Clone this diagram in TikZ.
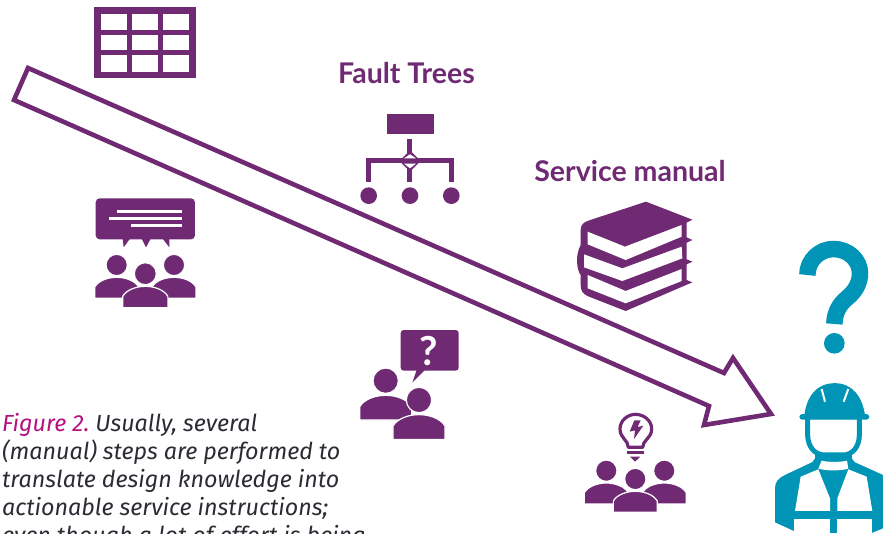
\documentclass[tikz,border=0pt]{standalone}
\usepackage{fontspec}
\setmainfont{Fira Sans}
\newfontfamily\labelfont{Lato}
\definecolor{plum}{HTML}{6F2A73}
\definecolor{petrol}{HTML}{0095B6}
\definecolor{figpink}{HTML}{B5117F}
\definecolor{captiongrey}{HTML}{2B2B33}
\tikzset{
  zoomed/.style={shift={#1},x=0.3333pt,y=-0.3333pt},
  headline/.style={font=\labelfont\bfseries\fontsize{28.5}{32}\selectfont,text=plum},
  person/.pic={
    \begin{scope}[x=#1pt,y=-#1pt]
    \fill[plum,draw=white,line width=1.2pt] (0,0) circle (1);
    \fill[plum,draw=white,line width=1.2pt] (-2.05,3.1) -- (-2.05,2.05)
      .. controls (-1.7,1.45) and (-0.8,1.15) .. (0,1.15)
      .. controls (0.8,1.15) and (1.7,1.45) .. (2.05,2.05) -- (2.05,3.1) -- cycle;
    \end{scope}
  }
}

\begin{document}
\begin{tikzpicture}[x=1pt,y=-1pt]
  \useasboundingbox (0,0) rectangle (883,533);
  \clip (0,0) rectangle (883,533);

  % table
  \begin{scope}[zoomed={(60,0)}]
    \fill[plum] (103,21) rectangle (407,234);
    \foreach \colx in {124,217,309} {
      \foreach \rowy/\rowh in {41/49,105/45,166/49} {
        \fill[white] (\colx,\rowy) rectangle ++(78,\rowh);
      }
    }
  \end{scope}

  % meeting
  \begin{scope}[zoomed={(80,190)}]
    \fill[plum,rounded corners=4pt] (47,25) rectangle (345,148);
    \fill[plum] (128,146) -- (131,172) -- (150,146) -- cycle;
    \fill[plum] (185,146) -- (198,172) -- (212,146) -- cycle;
    \fill[plum] (248,146) -- (268,172) -- (268,146) -- cycle;
    \fill[white] (112,60) rectangle (305,70);
    \fill[white] (87,81) rectangle (305,91);
    \fill[white] (153,103) rectangle (305,112);
  \end{scope}
  \pic at (116.7,265) {person=10.7};
  \pic at (174,265) {person=10.7};
  \pic at (145.3,273.7) {person=11};

  % fault tree
  \node[headline] (faulttrees) at (406.5,73) {Fault Trees};
  \begin{scope}[zoomed={(350,105)}]
    \fill[plum] (111,27) rectangle (252,87);
    \fill[plum] (172,103) rectangle (187,232);
    \fill[plum] (49,160) rectangle (312,175);
    \fill[plum] (49,160) rectangle (64,232);
    \fill[plum] (297,160) rectangle (312,232);
    \fill[plum] (180,136) -- (212,168) -- (180,200) -- (148,168) -- cycle;
    \fill[white] (180,148) -- (198,160) -- (162,160) -- cycle;
    \fill[white] (180,190) -- (198,176) -- (162,176) -- cycle;
    \foreach \dotx in {56,180,304} {
      \fill[plum] (\dotx,272) circle (25);
    }
  \end{scope}

  % books
  \node[headline] (servicemanual) at (630,171) {Service manual};
  \begin{scope}[zoomed={(565,195)}]
    \fill[plum] (243,20) -- (382,74) -- (365,83) -- (365,127) -- (382,135) -- (365,143)
      -- (365,193) -- (382,200) -- (365,208) -- (365,255) -- (382,262) -- (182,348)
      -- (72,305) .. controls (55,298) and (47,290) .. (47,270) -- (47,240)
      .. controls (35,225) and (30,180) .. (47,150) -- (47,105)
      .. controls (47,90) and (55,82) .. (70,77) -- cycle;
    \fill[white] (68,110) -- (180,155) -- (350,90) -- (350,125) -- (182,195) -- (68,148) -- cycle;
    \fill[white] (57,178) -- (172,220) -- (350,155) -- (352,190) -- (172,258) -- (57,217) -- cycle;
    \fill[white] (68,240) -- (182,288) -- (350,222) -- (350,258) -- (182,325) -- (68,280) -- cycle;
  \end{scope}

  % question
  \begin{scope}[zoomed={(350,320)}]
    \fill[plum,rounded corners=3pt] (152,30) rectangle (326,152);
    \fill[plum] (200,150) -- (187,188) -- (225,150) -- cycle;
  \end{scope}
  \node[font=\labelfont\bfseries\fontsize{40}{44}\selectfont,text=white] (bubblemark) at (429,351) {?};
  \pic at (385.7,380.7) {person=12.7};
  \pic at (419,400) {person=12.7};

  % idea
  \begin{scope}[zoomed={(575,405)}]
    \draw[plum,line width=3.2pt,line join=round] (160,127)
      .. controls (160,105) and (135,100) .. (135,72)
      .. controls (135,45) and (160,28) .. (181,28)
      .. controls (205,28) and (230,45) .. (230,72)
      .. controls (230,100) and (203,105) .. (203,127) -- cycle;
    \fill[plum] (157,138) rectangle (206,147);
    \fill[plum] (165,155) -- (196,155) -- (180,170) -- cycle;
    \fill[plum] (178,46) -- (164,80) -- (180,76) -- (177,102) -- (205,62) -- (188,66) -- (197,46) -- cycle;
  \end{scope}
  \pic at (606.3,470.7) {person=10.7};
  \pic at (664.3,470.7) {person=10.7};
  \pic at (635.3,479) {person=10.7};

  % process arrow
  \draw[plum,line width=4.6pt,miter limit=10] (28,68) -- (724,373) -- (733,358)
    -- (771,414) -- (704,425) -- (709,406) -- (14,100) -- cycle;

  % big question mark
  \begin{scope}[zoomed={(765,230)}]
    \draw[petrol,line width=16.5pt] (127,135) .. controls (127,90) and (165,57) .. (205,57)
      .. controls (250,57) and (285,90) .. (285,130)
      .. controls (285,160) and (270,185) .. (245,205)
      .. controls (225,222) and (209,245) .. (208,282);
    \fill[petrol] (208,340) circle (31);
  \end{scope}

  % worker
  \begin{scope}[zoomed={(765,375)}]
    \fill[petrol] (150,225) -- (150,250) .. controls (148,260) and (140,262) .. (130,267)
      -- (60,300) .. controls (40,310) and (30,320) .. (30,340) -- (30,442) -- (100,474)
      -- (320,474) -- (354,460) -- (354,300) -- (270,262) .. controls (262,258) and (260,255) .. (260,225) -- cycle;
    \fill[white] (170,257) .. controls (190,262) and (225,262) .. (246,257) -- (250,281)
      .. controls (225,288) and (185,288) .. (160,281) -- cycle;
    \fill[white] (107,305) -- (160,283) -- (195,370) -- (195,408) -- (90,408) -- cycle;
    \fill[white] (305,305) -- (250,283) -- (217,370) -- (217,408) -- (322,408) -- cycle;
    \fill[white] (88,432) rectangle (195,474);
    \fill[white] (217,432) rectangle (322,474);
    \fill[white,draw=petrol,line width=5pt] (128,125) -- (128,180) .. controls (128,215) and (150,240) .. (178,240)
      -- (235,240) .. controls (262,240) and (283,215) .. (283,180) -- (283,125) -- cycle;
    \fill[petrol] (118,120) .. controls (125,70) and (145,45) .. (172,32)
      .. controls (195,22) and (225,22) .. (245,32)
      .. controls (272,45) and (292,70) .. (300,120) -- cycle;
    \fill[petrol,rounded corners=3pt] (103,117) rectangle (313,134);
    \draw[white,line width=2pt] (170,42) -- (180,80);
    \draw[white,line width=2pt] (250,42) -- (236,80);
  \end{scope}

  % caption
  \node[anchor=north west,inner sep=0pt,align=left,text=captiongrey,font=\itshape\fontsize{23.3}{28}\selectfont] (caption) at (2,413)
    {\textcolor{figpink}{Figure 2.}\hspace{6pt}Usually, several\\
     (manual) steps are performed to\\
     translate design knowledge into\\
     actionable service instructions;\\
     even though a lot of effort is being};
\end{tikzpicture}
\end{document}
